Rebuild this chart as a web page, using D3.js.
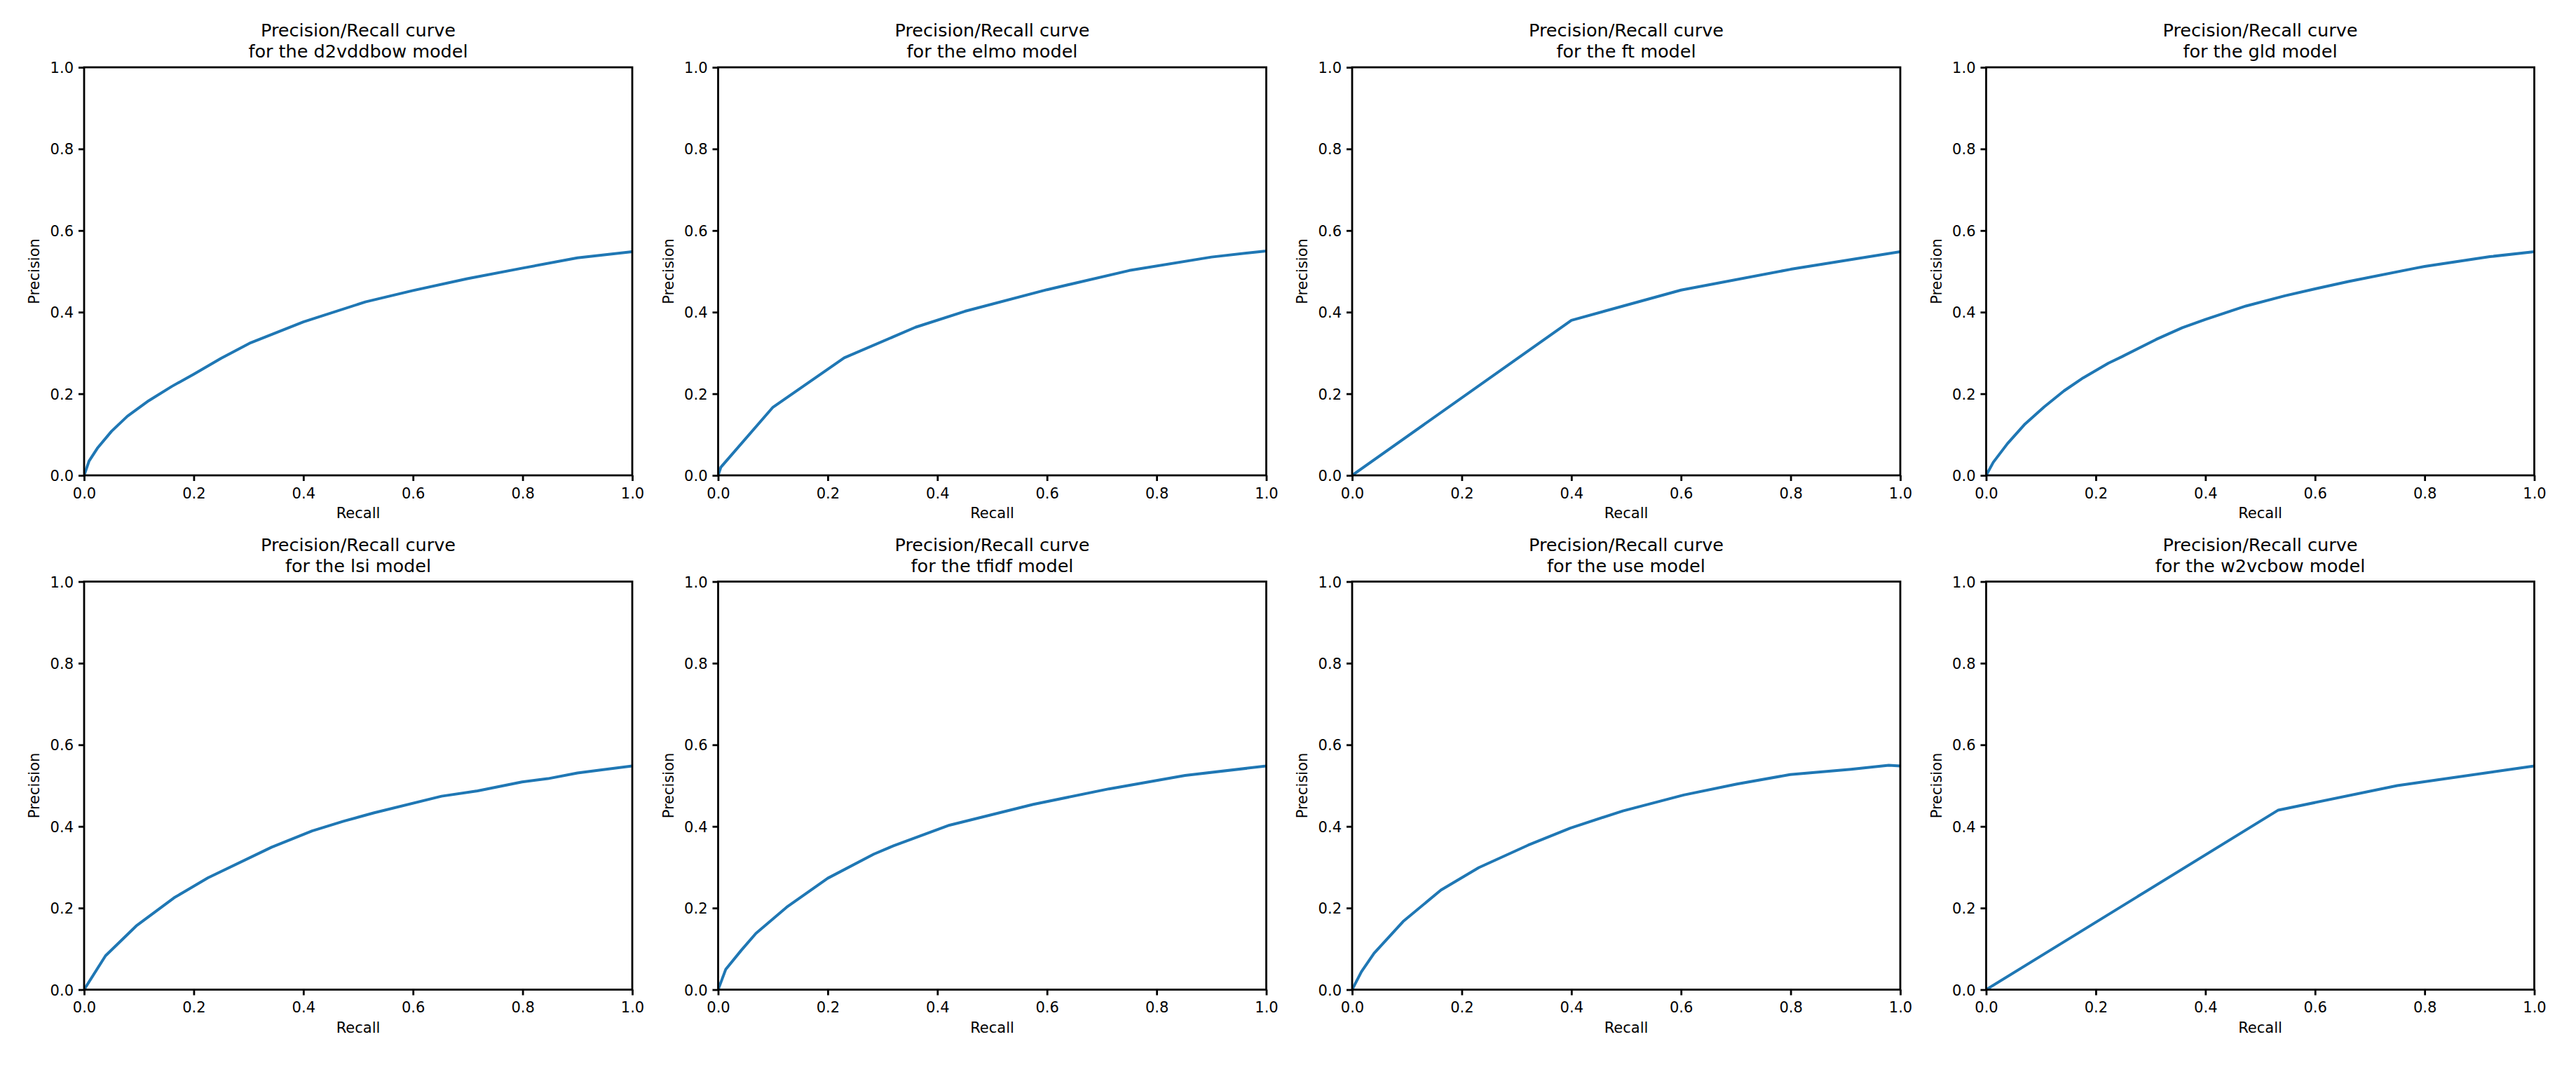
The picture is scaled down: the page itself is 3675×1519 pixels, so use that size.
<!DOCTYPE html>
<html>
<head>
<meta charset="utf-8">
<script src="https://cdn.jsdelivr.net/npm/d3@7"></script>
<style>
  html, body { margin: 0; padding: 0; background: #ffffff; }
  svg { display: block; }
  text { font-family: "DejaVu Sans", sans-serif; fill: #000; }
</style>
</head>
<body>
<svg id="chart" width="3675" height="1519"></svg>
<script>
// ---------- data ----------
const models = ["d2vddbow", "elmo", "ft", "gld", "lsi", "tfidf", "use", "w2vcbow"];

const d2vddbowRecall    = [0, 0.009, 0.025, 0.05, 0.079, 0.118, 0.16, 0.2, 0.25, 0.304, 0.4, 0.513, 0.6, 0.699, 0.8, 0.9, 1.0];
const d2vddbowPrecision = [0, 0.035, 0.068, 0.108, 0.145, 0.183, 0.218, 0.248, 0.287, 0.325, 0.376, 0.425, 0.453, 0.482, 0.508, 0.533, 0.548];

const elmoRecall    = [0, 0.005, 0.1, 0.23, 0.36, 0.45, 0.6, 0.75, 0.9, 1.0];
const elmoPrecision = [0, 0.02, 0.167, 0.288, 0.363, 0.402, 0.455, 0.502, 0.535, 0.55];

const ftRecall    = [0, 0.4, 0.6, 0.8, 1.0];
const ftPrecision = [0, 0.38, 0.454, 0.505, 0.548];

const gldRecall    = [0, 0.013, 0.039, 0.071, 0.106, 0.142, 0.177, 0.223, 0.248, 0.31, 0.358, 0.4, 0.474, 0.545, 0.6, 0.661, 0.784, 0.8, 0.919, 1.0];
const gldPrecision = [0, 0.032, 0.078, 0.126, 0.168, 0.207, 0.239, 0.275, 0.291, 0.333, 0.362, 0.382, 0.415, 0.44, 0.457, 0.475, 0.508, 0.512, 0.536, 0.548];

const lsiRecall    = [0, 0.039, 0.095, 0.164, 0.226, 0.342, 0.416, 0.474, 0.528, 0.652, 0.718, 0.799, 0.846, 0.9, 0.947, 1.0];
const lsiPrecision = [0, 0.083, 0.156, 0.225, 0.274, 0.349, 0.389, 0.413, 0.433, 0.474, 0.487, 0.509, 0.517, 0.531, 0.539, 0.548];

const tfidfRecall    = [0, 0.014, 0.042, 0.069, 0.125, 0.2, 0.284, 0.319, 0.422, 0.575, 0.713, 0.852, 1.0];
const tfidfPrecision = [0, 0.05, 0.096, 0.138, 0.202, 0.273, 0.332, 0.352, 0.403, 0.454, 0.492, 0.525, 0.548];

const useRecall    = [0, 0.017, 0.04, 0.093, 0.162, 0.231, 0.321, 0.398, 0.494, 0.605, 0.702, 0.799, 0.91, 0.979, 1.0];
const usePrecision = [0, 0.044, 0.089, 0.167, 0.244, 0.299, 0.354, 0.396, 0.438, 0.477, 0.504, 0.527, 0.54, 0.55, 0.548];

const w2vcbowRecall    = [0, 0.533, 0.75, 1.0];
const w2vcbowPrecision = [0, 0.44, 0.5, 0.548];

const tickValues = [0, 0.2, 0.4, 0.6, 0.8, 1.0];
const tickLabels = ["0.0", "0.2", "0.4", "0.6", "0.8", "1.0"];
const titleLine1 = "Precision/Recall curve";
const xLabel = "Recall";
const yLabel = "Precision";

const recallByModel = [d2vddbowRecall, elmoRecall, ftRecall, gldRecall, lsiRecall, tfidfRecall, useRecall, w2vcbowRecall];
const precisionByModel = [d2vddbowPrecision, elmoPrecision, ftPrecision, gldPrecision, lsiPrecision, tfidfPrecision, usePrecision, w2vcbowPrecision];

// ---------- layout ----------
const colLeft = [120, 1024.5, 1929, 2833.5];
const rowTop = [96, 829.5];
const axW = 782, axH = 582;
const lineColor = "#1f77b4";

const svg = d3.select("#chart");
svg.append("rect").attr("width", 3675).attr("height", 1519).attr("fill", "#fff");

models.forEach((name, i) => {
  const col = i % 4, row = Math.floor(i / 4);
  const left = colLeft[col], top = rowTop[row];
  const g = svg.append("g").attr("transform", `translate(${left},${top})`);

  const x = d3.scaleLinear().domain([0, 1]).range([0, axW]);
  const y = d3.scaleLinear().domain([0, 1]).range([axH, 0]);

  const pts = recallByModel[i].map((r, k) => [r, precisionByModel[i][k]]);

  const clipId = "clip" + i;
  g.append("clipPath").attr("id", clipId)
    .append("rect").attr("x", 0).attr("y", 0).attr("width", axW).attr("height", axH);

  g.append("path")
    .datum(pts)
    .attr("clip-path", `url(#${clipId})`)
    .attr("fill", "none")
    .attr("stroke", lineColor)
    .attr("stroke-width", 4)
    .attr("stroke-linejoin", "round")
    .attr("stroke-linecap", "butt")
    .attr("d", d3.line().x(d => x(d[0])).y(d => y(d[1])));

  const fmt = (d) => tickLabels[tickValues.indexOf(d)];
  const xAxis = d3.axisBottom(x).tickValues(tickValues).tickFormat(fmt)
    .tickSize(8).tickSizeOuter(0).tickPadding(10);
  const yAxis = d3.axisLeft(y).tickValues(tickValues).tickFormat(fmt)
    .tickSize(8).tickSizeOuter(0).tickPadding(7);

  const gx = g.append("g").attr("transform", `translate(0,${axH})`).call(xAxis);
  const gy = g.append("g").call(yAxis);
  [gx, gy].forEach(a => {
    a.select(".domain").remove();
    a.selectAll(".tick line").attr("stroke", "#000").attr("stroke-width", 2.8);
    a.selectAll(".tick text").attr("font-size", 21).attr("font-family", "DejaVu Sans").attr("fill", "#000");
  });
  gy.selectAll(".tick text").attr("dy", "0.36em");

  g.append("rect")
    .attr("x", 0).attr("y", 0).attr("width", axW).attr("height", axH)
    .attr("fill", "none").attr("stroke", "#000").attr("stroke-width", 2.8);

  g.append("text")
    .attr("x", axW / 2).attr("y", axH + 61)
    .attr("text-anchor", "middle").attr("font-size", 21)
    .text(xLabel);

  g.append("text")
    .attr("transform", `translate(-64,${axH / 2}) rotate(-90)`)
    .attr("text-anchor", "middle").attr("font-size", 21)
    .text(yLabel);

  g.append("text")
    .attr("x", axW / 2).attr("y", -44)
    .attr("text-anchor", "middle").attr("font-size", 25.5)
    .text(titleLine1);
  g.append("text")
    .attr("x", axW / 2).attr("y", -14)
    .attr("text-anchor", "middle").attr("font-size", 25.5)
    .text(`for the ${name} model`);
});
</script>
</body>
</html>
